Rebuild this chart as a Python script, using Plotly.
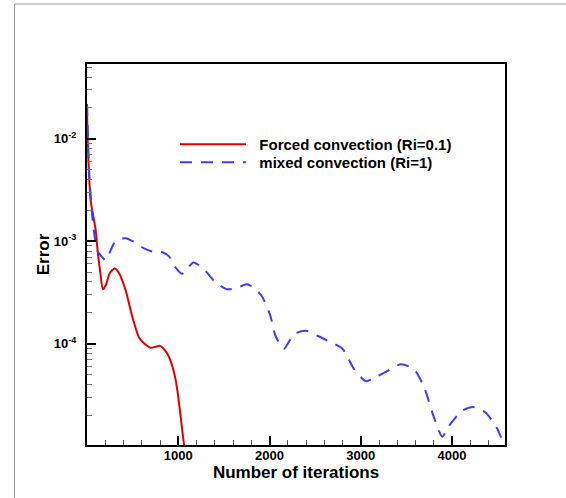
import plotly.graph_objects as go

# ---- data ----
forced_iter = [0, 11, 40, 70, 95, 113, 145, 175, 210, 250, 303, 350, 424, 497, 570,
               640, 698, 750, 800, 850, 899, 940, 972, 1000, 1027, 1064, 1090]
forced_err = [0.020, 7.8e-3, 2.5e-3, 1.74e-3, 1.29e-3, 8.7e-4, 5.0e-4, 3.4e-4, 3.8e-4,
              4.9e-4, 5.4e-4, 4.9e-4, 3.3e-4, 1.82e-4, 1.15e-4, 9.8e-5, 9.1e-5, 9.3e-5,
              9.5e-5, 8.7e-5, 7.4e-5, 5.8e-5, 4.4e-5, 3.0e-5, 1.9e-5, 1.0e-5, 6.3e-6]

mixed_iter = [0, 10, 22, 58, 113, 160, 205, 250, 296, 360, 424, 520, 625, 720, 826, 899,
              965, 1040, 1100, 1166, 1275, 1404, 1531, 1640, 1751, 1830, 1916, 2007, 2064,
              2156, 2220, 2284, 2412, 2520, 2634, 2799, 2928, 3057, 3160, 3259, 3443, 3590,
              3701, 3793, 3893, 3950, 4013, 4105, 4235, 4363, 4491, 4583]
mixed_err = [0.0219, 0.0112, 5.0e-3, 1.74e-3, 8.1e-4, 7.1e-4, 6.5e-4, 7.8e-4, 9.5e-4,
             1.05e-3, 1.07e-3, 9.8e-4, 8.5e-4, 7.9e-4, 7.8e-4, 7.1e-4, 5.6e-4, 4.8e-4,
             5.4e-4, 6.2e-4, 5.4e-4, 4.0e-4, 3.4e-4, 3.5e-4, 3.8e-4, 3.5e-4, 2.9e-4,
             1.9e-4, 1.2e-4, 8.9e-5, 1.07e-4, 1.26e-4, 1.33e-4, 1.2e-4, 1.07e-4, 8.9e-5,
             5.6e-5, 4.3e-5, 4.7e-5, 5.2e-5, 6.3e-5, 5.5e-5, 3.6e-5, 2.0e-5, 1.23e-5,
             1.5e-5, 1.78e-5, 2.2e-5, 2.4e-5, 2.14e-5, 1.5e-5, 9.5e-6]

series_names = ["Forced convection (Ri=0.1)", "mixed convection (Ri=1)"]

x_tick_vals = [1000, 2000, 3000, 4000]
x_tick_text = ["1000", "2000", "3000", "4000"]
y_tick_vals = [1e-4, 1e-3, 1e-2]
y_tick_text = ["10<sup>-4</sup>", "10<sup>-3</sup>", "10<sup>-2</sup>"]
y_minor_vals = [m * 10.0 ** e for e in (-5, -4, -3, -2) for m in range(2, 10)]

FONT = "Liberation Sans, Arial, Helvetica, sans-serif"
GAP = "\u00a0\u00a0"

fig = go.Figure()
fig.add_trace(go.Scatter(
    x=forced_iter, y=forced_err, mode="lines", name=GAP + series_names[0],
    legend="legend",
    line=dict(color="#e00000", width=2, shape="spline", smoothing=0.7)))
fig.add_trace(go.Scatter(
    x=mixed_iter, y=mixed_err, mode="lines", name=GAP + series_names[1],
    legend="legend2",
    line=dict(color="#3d3dff", width=2, dash="12px,9px", shape="spline", smoothing=0.7)))

axis_common = dict(
    showline=True, linecolor="black", linewidth=2, mirror=True,
    ticks="inside", tickcolor="black", tickwidth=2, ticklen=9,
    showgrid=False, zeroline=False,
    tickfont=dict(family=FONT, size=13, color="black", weight="bold"),
)

fig.update_xaxes(
    **axis_common,
    range=[0, 4580], tickmode="array", tickvals=x_tick_vals, ticktext=x_tick_text,
    ticklabelstandoff=-3,
    minor=dict(ticks="inside", dtick=200, tick0=0, ticklen=5, tickwidth=1, tickcolor="#555"),
    title=dict(text="Number of iterations", standoff=0,
               font=dict(family=FONT, size=17, color="black", weight="bold")),
)
fig.update_yaxes(
    **axis_common,
    type="log", range=[-4.99, -1.27], tickmode="array",
    tickvals=y_tick_vals, ticktext=y_tick_text, ticklabelstandoff=6,
    minor=dict(ticks="inside", tickmode="array", tickvals=y_minor_vals,
               ticklen=5, tickwidth=1, tickcolor="#777"),
    title=dict(text="Error", standoff=0,
               font=dict(family=FONT, size=17, color="black", weight="bold")),
)

legend_common = dict(xanchor="left", yanchor="top", bgcolor="rgba(0,0,0,0)",
                     itemwidth=66, tracegroupgap=0,
                     font=dict(family=FONT, size=15, color="black", weight="bold"))

fig.update_layout(
    width=566, height=498,
    margin=dict(l=87, r=61, t=64, b=53),
    paper_bgcolor="white", plot_bgcolor="white",
    showlegend=True,
    legend=dict(x=0.2105, y=0.832, **legend_common),
    legend2=dict(x=0.2105, y=0.785, **legend_common),
    shapes=[
        dict(type="line", xref="paper", yref="paper", x0=-0.1734, x1=-0.1734,
             y0=1.1575, y1=-0.15, line=dict(color="#9a9a9a", width=1)),
        dict(type="line", xref="paper", yref="paper", x0=-0.1734, x1=1.16,
             y0=1.1575, y1=1.1575, line=dict(color="#9a9a9a", width=1)),
    ],
)

fig.write_html("out.html")
